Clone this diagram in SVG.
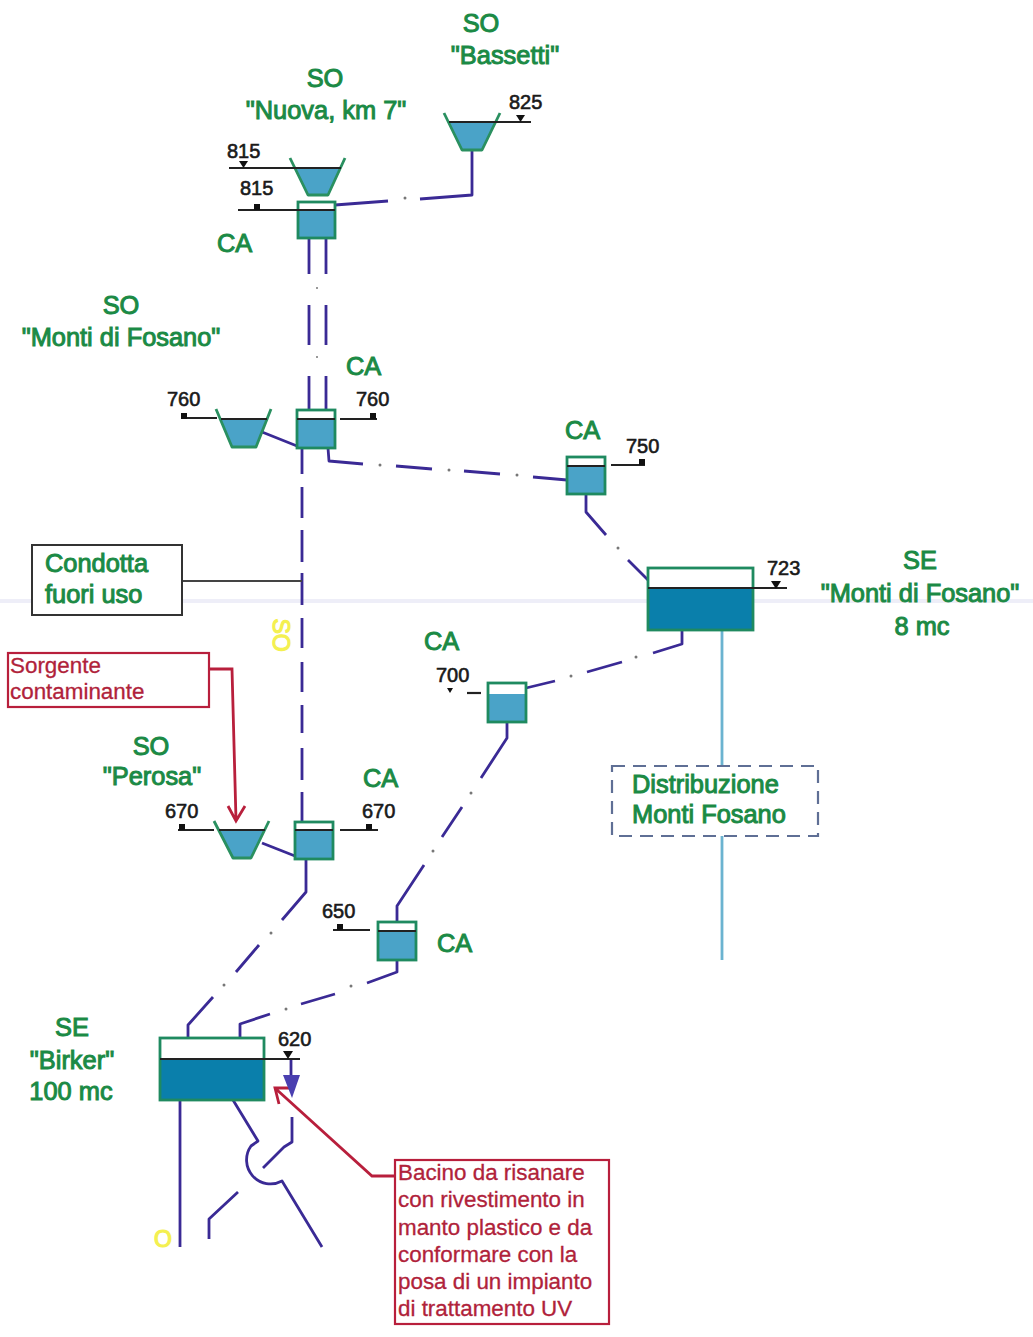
<svg xmlns="http://www.w3.org/2000/svg" width="1033" height="1337" viewBox="0 0 1033 1337">
<style>
text{font-family:"Liberation Sans",Arial,sans-serif}
.g{font-size:25.400px;fill:#1b8a45;stroke:#1b8a45;stroke-width:1}
.gm{text-anchor:middle}
.n{font-size:20px;fill:#1a1a1a;stroke:#1a1a1a;stroke-width:.6}
.r{font-size:22.400px;fill:#b0223a;stroke:#b0223a;stroke-width:.3}
.y{font-size:23px;fill:#f4f050;stroke:#f4f050;stroke-width:1.200;text-anchor:middle}
.w{fill:#4aa3c8}
.wd{fill:#0a7fab}
.box{fill:none;stroke:#1f8a60;stroke-width:2.800}
.fun{fill:none;stroke:#2a9060;stroke-width:2.800;stroke-linejoin:round}
.lv{fill:none;stroke:#222;stroke-width:2.200}
.mk{fill:#111}
.p{fill:none;stroke:#3a2a95;stroke-width:2.800;stroke-linejoin:round}
.ld{fill:none;stroke:#444;stroke-width:2}
.rl{fill:none;stroke:#b81f3c;stroke-width:2.800}
.b{fill:none;stroke:#6bb3d0;stroke-width:2.800}
.d{fill:#777}
</style>
<rect x="0" y="599" width="1033" height="4" fill="#eeeef8"/>

<g id="connectors">
<path class="p" d="M335,205L388,201M420,199L472,195V150"/>
<path class="p" d="M309,238V274M326,238V274M309,305V345M326,305V345M309,376V410M326,376V410"/>
<path class="p" d="M262,432L297,446"/>
<path class="p" d="M328,448L329,461L363,464M396,466L432,469M464,471L500,474M533,477L567,480"/>
<path class="p" d="M302,448V474M302,487V518M302,530V562M302,573V605M302,618V648M302,662V692M302,705V733M302,748V780M302,792V822"/>
<path class="p" d="M586,494V512L606,535M628,560L648,580"/>
<path class="p" d="M526,688L555,681M587,672L622,662M653,653L682,644V630"/>
<path class="p" d="M507,722V738L481,778M462,807L442,837M424,865L397,906V922"/>
<path class="p" d="M262,843L295,856"/>
<path class="p" d="M306,859V892L282,920M259,945L236,972M213,997L188,1025V1038"/>
<path class="p" d="M397,960V972L367,983M335,994L301,1004M270,1014L240,1024V1038"/>
<path class="p" d="M180,1100V1247"/>
<path class="p" d="M233,1100L258,1141L251,1146A24,24 0 0 0 282,1181L322,1247"/>
<path class="p" d="M292,1117V1142L284,1147L263,1168M238,1192L209,1219V1239"/>
<path class="p" d="M291,1059V1076"/>
<path class="b" d="M722,631V766M722,836V960"/>
<path class="ld" d="M183,581H302"/>
<path class="rl" d="M209,669H232L236,820M228,806L236,821L245,806"/>
<path class="rl" d="M395,1176H372L276,1089M279,1104L275,1088L291,1088"/>
<g class="d">
<circle cx="405" cy="198" r="1.500"/><circle cx="317" cy="288" r="1"/><circle cx="317" cy="357" r="1"/>
<circle cx="380" cy="465" r="1.500"/><circle cx="449" cy="470" r="1.500"/><circle cx="517" cy="475" r="1.500"/>
<circle cx="618" cy="548" r="1.500"/><circle cx="571" cy="676" r="1.500"/><circle cx="636" cy="657" r="1.500"/>
<circle cx="471" cy="793" r="1.500"/><circle cx="433" cy="851" r="1.500"/><circle cx="271" cy="933" r="1.500"/>
<circle cx="224" cy="985" r="1.500"/><circle cx="351" cy="986" r="1.500"/><circle cx="286" cy="1009" r="1.500"/>
</g>
</g>

<g id="so-bassetti">
<polygon class="w" points="449,122 496,122 482,150 462,150"/>
<path class="fun" d="M444,113L462,150H482L500,113"/>
<path class="lv" d="M449,122H531"/><polygon class="mk" points="516,115 525,115 520.500,122"/>
<text class="n" x="509" y="109">825</text>
<text class="g gm" x="481" y="32">SO</text><text class="g gm" x="505" y="64">"Bassetti"</text>
</g>

<g id="so-nuova">
<polygon class="w" points="295,168 340,168 328,195 308,195"/>
<path class="fun" d="M290,158L308,195H328L345,158"/>
<path class="lv" d="M229,168H341"/><polygon class="mk" points="239,161 248,161 243.500,168"/>
<text class="n" x="227" y="158">815</text>
<text class="g gm" x="325" y="87">SO</text><text class="g gm" x="326" y="119">"Nuova, km 7"</text>
</g>

<g id="ca-nuova">
<rect x="298" y="210" width="37" height="28" class="w"/><rect x="298" y="202" width="37" height="36" class="box"/>
<path class="lv" d="M238,210H335"/><rect x="254" y="204" width="6" height="6" class="mk"/>
<text class="n" x="240" y="195">815</text>
<text class="g" x="217" y="252">CA</text>
</g>

<g id="so-monti">
<polygon class="w" points="221,419 266,419 256,447 232,447"/>
<path class="fun" d="M216,409L232,447H256L271,409"/>
<path class="lv" d="M181,418H217M221,419H267"/><rect x="181" y="413" width="6" height="6" class="mk"/>
<text class="n" x="167" y="406">760</text>
<text class="g gm" x="121" y="314">SO</text><text class="g gm" x="121" y="346">"Monti di Fosano"</text>
</g>

<g id="ca-monti">
<rect x="297" y="419" width="38" height="29" class="w"/><rect x="297" y="410" width="38" height="38" class="box"/>
<path class="lv" d="M297,419H335M340,419H377"/><rect x="370" y="413" width="6" height="6" class="mk"/>
<text class="n" x="356" y="406">760</text>
<text class="g" x="346" y="375">CA</text>
</g>

<g id="ca-750">
<rect x="567" y="466" width="38" height="28" class="w"/><rect x="567" y="457" width="38" height="37" class="box"/>
<path class="lv" d="M567,466H605M611,465H645"/><rect x="639" y="459" width="6" height="6" class="mk"/>
<text class="n" x="626" y="453">750</text>
<text class="g" x="565" y="439">CA</text>
</g>

<g id="se-monti">
<rect x="648" y="588" width="105" height="42" class="wd"/><rect x="648" y="568" width="105" height="62" class="box"/>
<path class="lv" d="M648,588H787"/><polygon class="mk" points="771,581 781,581 776,589"/>
<text class="n" x="767" y="575">723</text>
<text class="g gm" x="920" y="569">SE</text><text class="g gm" x="920" y="602">"Monti di Fosano"</text><text class="g gm" x="922" y="635">8 mc</text>
</g>

<g id="ca-700">
<rect x="488" y="694" width="38" height="28" class="w"/><rect x="488" y="683" width="38" height="39" class="box"/>
<path class="lv" d="M467,693H481"/><polygon class="mk" points="447,688 453,688 450,693"/>
<text class="n" x="436" y="682">700</text>
<text class="g" x="424" y="650">CA</text>
</g>

<g id="distribuzione">
<rect x="612" y="766" width="206" height="70" fill="none" stroke="#5f6f95" stroke-width="2.200" stroke-dasharray="13 8"/>
<text class="g" x="632" y="793">Distribuzione</text><text class="g" x="632" y="823">Monti Fosano</text>
</g>

<g id="condotta">
<rect x="32" y="545" width="150" height="70" fill="#fff" stroke="#333" stroke-width="2"/>
<text class="g" x="45" y="572">Condotta</text><text class="g" x="45" y="603">fuori uso</text>
</g>

<g id="sorgente">
<rect x="8" y="653" width="201" height="54" fill="#fff" stroke="#b81f3c" stroke-width="2.200"/>
<text class="r" x="10" y="673">Sorgente</text><text class="r" x="10" y="699">contaminante</text>
</g>

<g id="so-perosa">
<polygon class="w" points="219,830 265,830 251,858 233,858"/>
<path class="fun" d="M214,821L233,858H251L269,821"/>
<path class="lv" d="M178,830H214M219,830H265"/><rect x="179" y="824" width="6" height="6" class="mk"/>
<text class="n" x="165" y="818">670</text>
<text class="g gm" x="151" y="755">SO</text><text class="g gm" x="152" y="785">"Perosa"</text>
</g>

<g id="ca-670">
<rect x="295" y="830" width="38" height="29" class="w"/><rect x="295" y="822" width="38" height="37" class="box"/>
<path class="lv" d="M295,830H333M340,830H378"/><rect x="366" y="824" width="6" height="6" class="mk"/>
<text class="n" x="362" y="818">670</text>
<text class="g" x="363" y="787">CA</text>
</g>

<g id="ca-650">
<rect x="378" y="931" width="38" height="29" class="w"/><rect x="378" y="922" width="38" height="38" class="box"/>
<path class="lv" d="M378,931H416M333,930H370"/><rect x="337" y="924" width="6" height="6" class="mk"/>
<text class="n" x="322" y="918">650</text>
<text class="g" x="437" y="952">CA</text>
</g>

<g id="se-birker">
<rect x="160" y="1059" width="104" height="41" class="wd"/><rect x="160" y="1038" width="104" height="62" class="box"/>
<path class="lv" d="M160,1059H300"/><polygon class="mk" points="283,1051 293,1051 288,1059"/>
<polygon points="283,1075 300,1075 292,1098" fill="#4a3fb0"/>
<text class="n" x="278" y="1046">620</text>
<text class="g gm" x="72" y="1036">SE</text><text class="g gm" x="72" y="1069">"Birker"</text><text class="g gm" x="71" y="1100">100 mc</text>
</g>

<g id="bacino">
<rect x="395" y="1160" width="214" height="164" fill="#fff" stroke="#b81f3c" stroke-width="2.200"/>
<text class="r" x="398" y="1180">Bacino da risanare</text>
<text class="r" x="398" y="1207">con rivestimento in</text>
<text class="r" x="398" y="1235">manto plastico e da</text>
<text class="r" x="398" y="1262">conformare con la</text>
<text class="r" x="398" y="1289">posa di un impianto</text>
<text class="r" x="398" y="1316">di trattamento UV</text>
</g>

<text class="y" x="281" y="643" transform="rotate(90 281 635)">SO</text>
<text class="y" x="163" y="1247">O</text>
</svg>
